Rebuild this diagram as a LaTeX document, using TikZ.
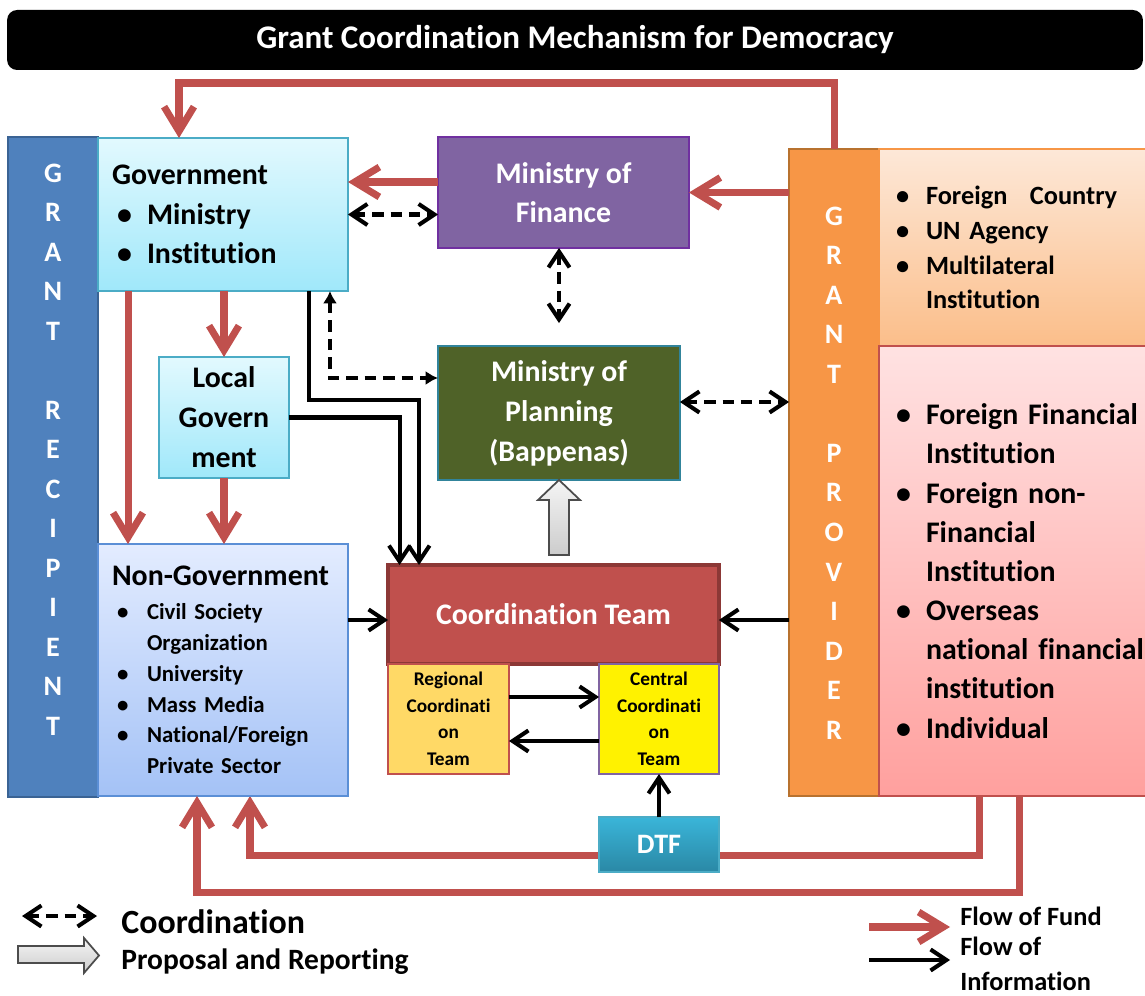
\documentclass[tikz,border=0pt]{standalone}
\usepackage{fontspec}
\setmainfont{Carlito}[Ligatures=NoCommon]
\usetikzlibrary{arrows.meta,backgrounds}
\definecolor{fundred}{HTML}{C0504D}
\definecolor{ctborder}{HTML}{8C3836}
\definecolor{recipblue}{HTML}{4F81BD}
\definecolor{recipedge}{HTML}{3A6394}
\definecolor{govtop}{HTML}{E2F9FE}
\definecolor{govbottom}{HTML}{A0E8FA}
\definecolor{govedge}{HTML}{4BACC6}
\definecolor{nongovtop}{HTML}{E3ECFF}
\definecolor{nongovbottom}{HTML}{A4C2F6}
\definecolor{nongovedge}{HTML}{5B8FD6}
\definecolor{mofpurple}{HTML}{8064A2}
\definecolor{mofedge}{HTML}{7030A0}
\definecolor{mopgreen}{HTML}{4F6228}
\definecolor{mopedge}{HTML}{31849B}
\definecolor{dtftop}{HTML}{3AB5D9}
\definecolor{dtfbottom}{HTML}{2A88A5}
\definecolor{provorange}{HTML}{F79646}
\definecolor{provedge}{HTML}{B8722F}
\definecolor{provtoptop}{HTML}{FDE8D8}
\definecolor{provtopbottom}{HTML}{FBBE8A}
\definecolor{provlowtop}{HTML}{FFE2E2}
\definecolor{provlowbottom}{HTML}{FFA09E}
\definecolor{regionalgold}{HTML}{FFD966}
\newcommand{\itemrow}[1]{\makebox[0.7cm][l]{\hspace*{0.1cm}\textbullet}#1}
\newcommand{\itemcont}[1]{\hspace*{0.7cm}#1}
\tikzstyle{boxbase}=[draw,line width=1.2pt,outer sep=0pt,font=\bfseries]
\tikzstyle{titlebar}=[fill=black,rounded corners=0.2cm,text=white,minimum width=22.72cm,minimum height=1.2cm,font=\bfseries\fontsize{18.8}{22}\selectfont]
\tikzstyle{grantbar}=[boxbase,minimum width=1.8cm]
\tikzstyle{vletters}=[text=white,align=center,inner sep=0pt,font=\bfseries\fontsize{16}{22.5}\selectfont]
\tikzstyle{listbox}=[boxbase,align=left,inner xsep=0.28cm]
\tikzstyle{whitebox}=[boxbase,text=white,align=center,font=\bfseries\fontsize{17}{22.4}\selectfont]
\tikzstyle{subteam}=[boxbase,line width=1pt,minimum width=2.42cm,minimum height=2.2cm,text width=2.3cm,align=center,inner sep=0pt,font=\bfseries\fontsize{11}{15.1}\selectfont]
\tikzstyle{fundarc}=[-{Straight Barb[length=14pt,width=17pt]},line width=4pt,fundred]
\tikzstyle{infoarc}=[-{Straight Barb[length=9pt,width=12pt]},line width=2.3pt]
\tikzstyle{coordarc}=[{Straight Barb[length=9pt,width=12pt]}-{Straight Barb[length=9pt,width=12pt]},line width=2.3pt,dash pattern=on 6.5pt off 4pt]
\tikzstyle{coordarctri}=[{Latex[length=7pt,width=8pt]}-{Latex[length=7pt,width=8pt]},line width=2pt,dash pattern=on 6.5pt off 4pt]
\tikzstyle{proposalarrow}=[draw=gray!60!black,line width=1pt,top color=gray!8,bottom color=gray!40]
\tikzstyle{legendtext}=[anchor=west,inner sep=0pt,align=left,font=\bfseries\fontsize{15}{19.8}\selectfont]

\begin{document}
\begin{tikzpicture}[x=0.02cm,y=-0.02cm]
\useasboundingbox (0,0) rectangle (1145,996);

\node[titlebar] (title) at (575,40) {Grant Coordination Mechanism for Democracy};

\node[grantbar,fill=recipblue,draw=recipedge,minimum height=13.2cm] (recipient) at (53,467) {};
\node[vletters] (recipientlbl) at (53,449.5) {G\\R\\A\\N\\T\\[22.5pt]R\\E\\C\\I\\P\\I\\E\\N\\T};

\node[listbox,draw=govedge,top color=govtop,bottom color=govbottom,minimum width=5cm,minimum height=3.06cm,text width=4.44cm,font=\bfseries\fontsize{17}{22.4}\selectfont] (gov) at (223,214.5) {Government\\\itemrow{Ministry}\\\itemrow{Institution}};
\node[boxbase,draw=govedge,top color=govtop,bottom color=govbottom,minimum width=2.6cm,minimum height=2.42cm,align=center,font=\bfseries\fontsize{17}{22.7}\selectfont] (localgov) at (224,417.5) {Local\\Govern\\ment};
\node[listbox,draw=nongovedge,top color=nongovtop,bottom color=nongovbottom,minimum width=5cm,minimum height=5.04cm,text width=4.44cm,font=\bfseries\fontsize{13}{17.5}\selectfont] (nongov) at (223,670) {{\fontsize{17}{22.4}\selectfont Non-Government}\\[2pt]\itemrow{Civil Society}\\\itemcont{Organization}\\\itemrow{University}\\\itemrow{Mass Media}\\\itemrow{National/Foreign}\\\itemcont{Private Sector}};

\node[whitebox,fill=mofpurple,draw=mofedge,minimum width=5.02cm,minimum height=2.22cm] (mof) at (563.5,192.5) {Ministry of\\Finance};
\node[whitebox,fill=mopgreen,draw=mopedge,minimum width=4.84cm,minimum height=2.68cm,font=\bfseries\fontsize{17}{22.7}\selectfont] (mop) at (559,413) {Ministry of\\Planning\\(Bappenas)};
\node[whitebox,fill=fundred,draw=ctborder,line width=1.8pt,minimum width=6.62cm,minimum height=1.98cm] (ct) at (553.5,614.5) {Coordination Team};
\node[subteam,fill=regionalgold,draw=fundred] (rct) at (448.5,719) {Regional\\Coordinati\\on\\Team};
\node[subteam,fill=yellow,draw=mofpurple,minimum width=2.4cm] (cct) at (659,719) {Central\\Coordinati\\on\\Team};
\node[whitebox,draw=govedge,top color=dtftop,bottom color=dtfbottom,minimum width=2.4cm,minimum height=1.1cm,font=\bfseries\fontsize{16}{20}\selectfont] (dtf) at (659,844.5) {DTF};

\node[grantbar,fill=provorange,draw=provedge,minimum height=12.94cm] (provider) at (834,472.5) {};
\node[vletters] (providerlbl) at (834,473) {G\\R\\A\\N\\T\\[22.5pt]P\\R\\O\\V\\I\\D\\E\\R};
\node[listbox,draw=provorange,top color=provtoptop,bottom color=provtopbottom,inner xsep=0.24cm,minimum width=5.82cm,minimum height=3.94cm,text width=5.34cm,font=\bfseries\fontsize{15}{19.8}\selectfont] (provtop) at (1024.5,247.5) {\itemrow{Foreign\hspace{0.45cm}Country}\\\itemrow{UN Agency}\\\itemrow{Multilateral}\\\itemcont{Institution}};
\node[listbox,draw=fundred,top color=provlowtop,bottom color=provlowbottom,inner xsep=0.24cm,minimum width=5.82cm,minimum height=9cm,text width=5.34cm,font=\bfseries\fontsize{17}{22.3}\selectfont] (provlow) at (1024.5,571) {\itemrow{Foreign Financial}\\\itemcont{Institution}\\\itemrow{Foreign non-}\\\itemcont{Financial}\\\itemcont{Institution}\\\itemrow{Overseas}\\\itemcont{national financial}\\\itemcont{institution}\\\itemrow{Individual}};

\coordinate (fundtop) at (179,83);
\draw[fundarc] (provider.north) |- (fundtop) -- (fundtop |- gov.north);
\draw[fundarc] (provider.west |- mof.east) -- (mof.east);
\draw[fundarc] ([yshift=0.21cm]mof.west) -- ([yshift=0.21cm]mof.west -| gov.east);
\draw[fundarc] ([xshift=-1.9cm]gov.south) -- ([xshift=-1.9cm]nongov.north);
\draw[fundarc] (gov.south -| localgov.north) -- (localgov.north);
\draw[fundarc] (localgov.south) -- (localgov.south |- nongov.north);
\begin{pgfonlayer}{background}
\draw[fundarc] ([xshift=2.0cm]provlow.south west) -- ++(0,-1.2cm) -| ([xshift=0.54cm]nongov.south);
\end{pgfonlayer}
\draw[fundarc] ([xshift=2.8cm]provlow.south west) -- ++(0,-1.94cm) -| ([xshift=-0.52cm]nongov.south);

\draw[infoarc] ([xshift=1.72cm]gov.south) -- ++(0,-2.18cm) -| ([xshift=-2.69cm]ct.north);
\draw[infoarc] (localgov.east) -| ([xshift=-3.08cm]ct.north);
\draw[infoarc] ([yshift=-0.11cm]ct.west -| nongov.east) -- ([yshift=-0.11cm]ct.west);
\draw[infoarc] ([yshift=-0.11cm]ct.east -| provider.west) -- ([yshift=-0.11cm]ct.east);
\draw[infoarc] ([yshift=0.44cm]rct.east) -- ([yshift=0.44cm]cct.west);
\draw[infoarc] ([yshift=-0.44cm]cct.west) -- ([yshift=-0.44cm]rct.east);
\draw[infoarc] (dtf.north) -- (cct.south);

\draw[coordarc] (gov.east) -- (gov.east -| mof.west);
\draw[coordarc] (mof.south -| mop.north) -- ([yshift=0.46cm]mop.north);
\draw[coordarc] ([yshift=0.22cm]mop.east) -- ([yshift=0.22cm]mop.east -| provider.west);
\draw[coordarctri] ([xshift=2.14cm]gov.south) |- ([yshift=0.7cm]mop.west);

\draw[proposalarrow] (mop.south) -- ++(0.42cm,-0.4cm) -- ++(-0.22cm,0) -- ++(0,-1.1cm) -- ++(-0.4cm,0) -- ++(0,1.1cm) -- ++(-0.22cm,0) -- cycle;

\coordinate (legcoordA) at (22,916);
\coordinate (legcoordB) at (97,916);
\draw[coordarc] (legcoordA) -- (legcoordB);
\node[legendtext,font=\bfseries\fontsize{19.3}{22}\selectfont] (legcoordtxt) at (121,922) {Coordination};
\draw[proposalarrow] (18,946) -- (84,946) -- (84,938) -- (99,955.5) -- (84,973) -- (84,963) -- (18,963) -- cycle;
\node[legendtext,font=\bfseries\fontsize{16.8}{20}\selectfont] (legproptxt) at (121,962) {Proposal and Reporting};

\coordinate (legfundA) at (869,927);
\coordinate (legfundB) at (950,927);
\draw[fundarc] (legfundA) -- (legfundB);
\node[legendtext] (legfundtxt) at (960,916) {Flow of Fund};
\coordinate (leginfoA) at (869,960);
\coordinate (leginfoB) at (950,960);
\draw[infoarc] (leginfoA) -- (leginfoB);
\node[legendtext] (leginfotxt) at (960,964) {Flow of\\Information};
\end{tikzpicture}
\end{document}
